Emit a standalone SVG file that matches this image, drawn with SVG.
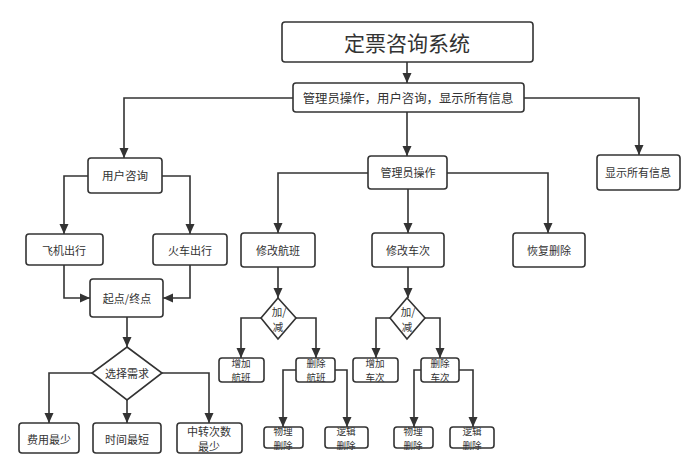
<svg xmlns="http://www.w3.org/2000/svg" width="692" height="465" viewBox="0 0 692 465">
<defs>
<marker id="ah" viewBox="0 0 10 10" refX="10" refY="5" markerWidth="10" markerHeight="10" markerUnits="userSpaceOnUse" orient="auto">
<path d="M0,0.5 L10,5 L0,9.5 z" fill="#333"/>
</marker>
<style>
.b{fill:#fff;stroke:#333;stroke-width:1.6}
.t{font-family:"Noto Sans CJK SC","Noto Sans",sans-serif;fill:#333;font-size:11px;text-anchor:middle;dominant-baseline:central}
.s{font-size:10.5px}
.m{font-size:9.6px}
.c path{fill:none;stroke:#333;stroke-width:1.6;marker-end:url(#ah)}
</style>
</defs>
<rect width="692" height="465" fill="#fff"/>
<g class="c">
<path d="M407,62 V83"/>
<path d="M293,98 H124 V158"/>
<path d="M524,98 H639 V155"/>
<path d="M407,112 V156"/>
<path d="M88,176 H64 V234"/>
<path d="M162,176 H190 V234"/>
<path d="M64,265 V298 H90"/>
<path d="M190,265 V298 H163"/>
<path d="M127,317 V347"/>
<path d="M92,373 H49 V423"/>
<path d="M127,400 V423"/>
<path d="M162,373 H209 V423"/>
<path d="M368,173 H278 V233"/>
<path d="M408,189 V233"/>
<path d="M447,173 H548 V233"/>
<path d="M278,267 V298"/>
<path d="M261,318 H241 V358"/>
<path d="M296,318 H316 V358"/>
<path d="M296,370 H283 V427"/>
<path d="M335,370 H347 V427"/>
<path d="M408,267 V298"/>
<path d="M390,318 H376 V358"/>
<path d="M425,318 H440 V358"/>
<path d="M421,370 H414 V427"/>
<path d="M459,370 H473 V427"/>
</g>
<g id="title"><rect class="b" x="282" y="22" width="251" height="40" rx="3" stroke-width="2"/><text class="t" x="407" y="42" style="font-size:21px">定票咨询系统</text></g>
<g id="main"><rect class="b" x="293" y="83" width="231" height="29" rx="3"/><text class="t" x="408" y="98" style="font-size:12.4px">管理员操作，用户咨询，显示所有信息</text></g>
<g id="user"><rect class="b" x="88" y="158" width="74" height="35" rx="3"/><text class="t" x="125" y="175" style="font-size:11.5px">用户咨询</text></g>
<g id="admin"><rect class="b" x="368" y="156" width="79" height="33" rx="3"/><text class="t" x="408" y="172">管理员操作</text></g>
<g id="showall"><rect class="b" x="597" y="155" width="83" height="35" rx="3"/><text class="t" x="638" y="172">显示所有信息</text></g>
<g id="plane"><rect class="b" x="26" y="234" width="77" height="31" rx="3"/><text class="t" x="64" y="250">飞机出行</text></g>
<g id="train"><rect class="b" x="153" y="234" width="74" height="31" rx="3"/><text class="t" x="190" y="250">火车出行</text></g>
<g id="startend"><rect class="b" x="90" y="279" width="73" height="38" rx="3"/><text class="t" x="127" y="298">起点/终点</text></g>
<g id="choose"><path class="b" d="M127,347 L162,373 L127,400 L92,373 z"/><text class="t" x="127" y="373">选择需求</text></g>
<g id="cost"><rect class="b" x="19" y="423" width="60" height="30" rx="3"/><text class="t" x="49" y="439">费用最少</text></g>
<g id="time"><rect class="b" x="93" y="423" width="68" height="30" rx="3"/><text class="t" x="127" y="439">时间最短</text></g>
<g id="transfer"><rect class="b" x="177" y="423" width="65" height="30" rx="3"/><text class="t" x="209" y="431">中转次数<tspan x="209" dy="15">最少</tspan></text></g>
<g id="modflight"><rect class="b" x="241" y="233" width="74" height="34" rx="3"/><text class="t" x="278" y="250">修改航班</text></g>
<g id="modtrain"><rect class="b" x="372" y="233" width="72" height="34" rx="3"/><text class="t" x="408" y="250">修改车次</text></g>
<g id="restore"><rect class="b" x="513" y="233" width="72" height="34" rx="3"/><text class="t" x="549" y="250">恢复删除</text></g>
<g id="addsub1"><path class="b" d="M278,298 L296,318 L278,339 L261,318 z"/><text class="t s" x="279" y="311">加/<tspan x="278" dy="15">减</tspan></text></g>
<g id="addsub2"><path class="b" d="M407,298 L425,318 L407,339 L390,318 z"/><text class="t s" x="408" y="311">加/<tspan x="407" dy="15">减</tspan></text></g>
<g id="addflight"><rect class="b" x="219" y="358" width="45" height="24" rx="3"/><text class="t m" x="241" y="363">增加<tspan x="241" dy="14">航班</tspan></text></g>
<g id="delflight"><rect class="b" x="296" y="358" width="39" height="24" rx="3"/><text class="t m" x="316" y="363">删除<tspan x="316" dy="14">航班</tspan></text></g>
<g id="addtrain"><rect class="b" x="353" y="358" width="45" height="24" rx="3"/><text class="t m" x="375" y="363">增加<tspan x="375" dy="14">车次</tspan></text></g>
<g id="deltrain"><rect class="b" x="421" y="358" width="38" height="24" rx="3"/><text class="t m" x="440" y="363">删除<tspan x="440" dy="14">车次</tspan></text></g>
<g id="phys1"><rect class="b" x="264" y="427" width="39" height="21" rx="3"/><text class="t m" x="283" y="431">物理<tspan x="283" dy="14">删除</tspan></text></g>
<g id="logic1"><rect class="b" x="325" y="427" width="43" height="21" rx="3"/><text class="t m" x="346" y="431">逻辑<tspan x="346" dy="14">删除</tspan></text></g>
<g id="phys2"><rect class="b" x="394" y="427" width="39" height="21" rx="3"/><text class="t m" x="413" y="431">物理<tspan x="413" dy="14">删除</tspan></text></g>
<g id="logic2"><rect class="b" x="450" y="427" width="44" height="21" rx="3"/><text class="t m" x="472" y="431">逻辑<tspan x="472" dy="14">删除</tspan></text></g>
</svg>
